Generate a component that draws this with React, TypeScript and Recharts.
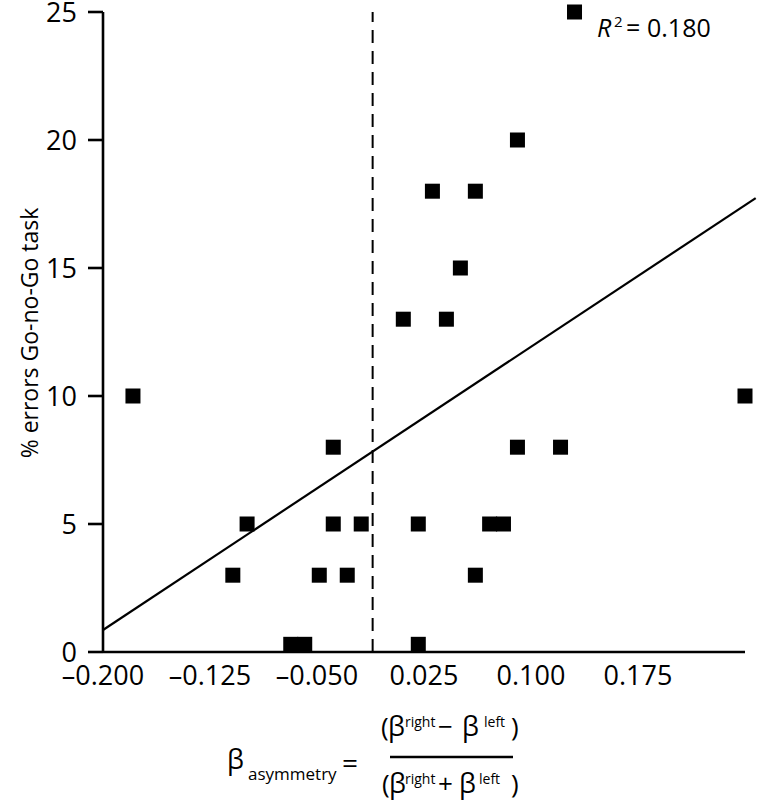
import React from "react";
import { ScatterChart, Scatter, XAxis, YAxis, ReferenceLine } from "recharts";

// beta asymmetry (x) and % errors (y) for each participant
const xValues = [-0.179, -0.109, -0.099, -0.0684, -0.0586, -0.0484, -0.0386, -0.0386, -0.0288, -0.019, 0.0105, 0.021, 0.021, 0.0309, 0.0407, 0.0505, 0.061, 0.061, 0.071, 0.0807, 0.0905, 0.0905, 0.1207, 0.1305, 0.25];
const yValues = [10, 3, 5, 0.3, 0.3, 3, 8, 5, 3, 5, 13, 5, 0.3, 18, 13, 15, 18, 3, 5, 5, 20, 8, 8, 25, 10];

const xTicks = [-0.2, -0.125, -0.05, 0.025, 0.1, 0.175];
const yTicks = [0, 5, 10, 15, 20, 25];

// regression line endpoints
const fitX = [-0.2, 0.2575];
const fitY = [0.86, 17.73];

const dashedLineX = -0.011;
const rSquared = "0.180";

const points = xValues.map((x, i) => ({ x, y: yValues[i] }));

const FONT = "'Open Sans', 'DejaVu Sans', sans-serif";

const SquareShape = (props: any) => {
  const { cx, cy } = props;
  if (cx == null || cy == null) return null;
  return <rect x={cx - 7.5} y={cy - 7.5} width={15} height={15} fill="#000" />;
};

const fmtX = (v: number) => (v < 0 ? "\u2013" + Math.abs(v).toFixed(3) : v.toFixed(3));

export default function App() {
  return (
    <div style={{ position: "absolute", left: 0, top: 0, width: 760, height: 805, background: "#fff" }}>
      <ScatterChart width={760} height={805} margin={{ top: 12, right: 15, bottom: 0, left: 0 }}>
        <XAxis
          type="number"
          dataKey="x"
          domain={[-0.2, 0.25]}
          ticks={xTicks}
          interval={0}
          tickFormatter={fmtX}
          tickLine={false}
          tickSize={0}
          tickMargin={14}
          height={153}
          axisLine={{ stroke: "#000", strokeWidth: 2.6 }}
          tick={{ fill: "#000", fontSize: 27, fontFamily: FONT }}
        />
        <YAxis
          type="number"
          dataKey="y"
          domain={[0, 25]}
          ticks={yTicks}
          interval={0}
          width={103}
          tickSize={15}
          tickMargin={11}
          axisLine={{ stroke: "#000", strokeWidth: 2.6 }}
          tickLine={{ stroke: "#000", strokeWidth: 2.6 }}
          tick={{ fill: "#000", fontSize: 27, fontFamily: FONT }}
        />
        <ReferenceLine
          x={dashedLineX}
          stroke="#000"
          strokeWidth={2}
          strokeDasharray="13 8"
          ifOverflow="visible"
        />
        <ReferenceLine
          segment={[
            { x: fitX[0], y: fitY[0] },
            { x: fitX[1], y: fitY[1] },
          ]}
          stroke="#000"
          strokeWidth={2.2}
          ifOverflow="visible"
        />
        <Scatter data={points} shape={SquareShape} isAnimationActive={false} />
      </ScatterChart>
      <svg
        width={760}
        height={805}
        style={{ position: "absolute", left: 0, top: 0, pointerEvents: "none" }}
        fontFamily={FONT}
        fill="#000"
      >
        {/* y axis title */}
        <text x={-333} y={38} transform="rotate(-90)" textAnchor="middle" fontSize={23}>
          % errors Go-no-Go task
        </text>
        {/* R squared */}
        <text x={597} y={37} fontSize={25} fontStyle="italic">R</text>
        <text x={614} y={27} fontSize={15}>2</text>
        <text x={626} y={37} fontSize={25}>=</text>
        <text x={647} y={37} fontSize={25}>{rSquared}</text>
        {/* x axis formula */}
        <text x={227} y={769} fontSize={27}>β</text>
        <text x={248} y={780} fontSize={17}>asymmetry</text>
        <text x={342} y={773} fontSize={28}>=</text>
        <line x1={390} x2={513} y1={757} y2={757} stroke="#000" strokeWidth={2.5} />
        <text x={381} y={736} fontSize={26}>(</text>
        <text x={388} y={736} fontSize={27}>β</text>
        <text x={405} y={727} fontSize={14}>right</text>
        <text x={438} y={736} fontSize={26}>−</text>
        <text x={462} y={736} fontSize={27}>β</text>
        <text x={484} y={727} fontSize={14}>left</text>
        <text x={511} y={736} fontSize={26}>)</text>
        <text x={382} y={793} fontSize={26}>(</text>
        <text x={389} y={793} fontSize={27}>β</text>
        <text x={405} y={784} fontSize={14}>right</text>
        <text x={438} y={793} fontSize={26}>+</text>
        <text x={459} y={793} fontSize={27}>β</text>
        <text x={479} y={784} fontSize={14}>left</text>
        <text x={511} y={793} fontSize={26}>)</text>
      </svg>
    </div>
  );
}
